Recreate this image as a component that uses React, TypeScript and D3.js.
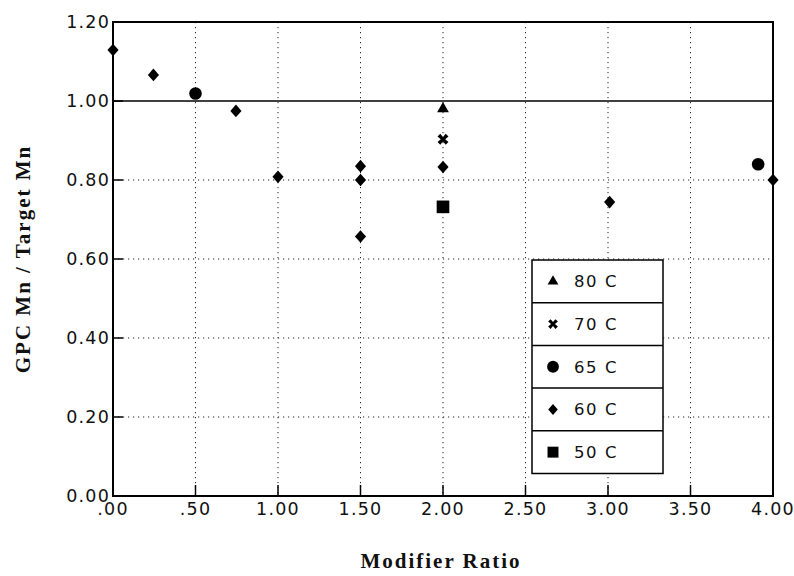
import React from "react";
import * as d3 from "d3";

// series
const tempLabels = ["80 C", "70 C", "65 C", "60 C", "50 C"];
const ratio80 = [2.0];
const mn80 = [0.98];
const ratio70 = [2.0];
const mn70 = [0.903];
const ratio65 = [0.5, 3.91];
const mn65 = [1.019, 0.84];
const ratio60 = [0.0, 0.245, 0.745, 1.0, 1.5, 1.5, 1.5, 2.0, 3.01, 4.0];
const mn60 = [1.129, 1.066, 0.975, 0.808, 0.835, 0.8, 0.657, 0.833, 0.744, 0.8];
const ratio50 = [2.0];
const mn50 = [0.732];

const xTicks = [0, 0.5, 1, 1.5, 2, 2.5, 3, 3.5, 4];
const yTicks = [0, 0.2, 0.4, 0.6, 0.8, 1.0, 1.2];

const W = 794, H = 576;
const M = { left: 113, right: 773, top: 22, bottom: 496 };

const x = d3.scaleLinear().domain([0, 4]).range([M.left, M.right]);
const y = d3.scaleLinear().domain([0, 1.2]).range([M.bottom, M.top]);

// wider diamond than d3.symbolDiamond
const diamond = {
  draw(ctx: any, size: number) {
    const r = Math.sqrt(size / 2);
    const w = r * 0.88;
    ctx.moveTo(0, -r);
    ctx.lineTo(w, 0);
    ctx.lineTo(0, r);
    ctx.lineTo(-w, 0);
    ctx.closePath();
  },
};
// bold X mark
const cross = {
  draw(ctx: any, size: number) {
    const r = Math.sqrt(size) / 2;
    const t = r * 0.5;
    ctx.moveTo(-r, -r + t);
    ctx.lineTo(-r + t, -r);
    ctx.lineTo(0, -t * 0.8);
    ctx.lineTo(r - t, -r);
    ctx.lineTo(r, -r + t);
    ctx.lineTo(t * 0.8, 0);
    ctx.lineTo(r, r - t);
    ctx.lineTo(r - t, r);
    ctx.lineTo(0, t * 0.8);
    ctx.lineTo(-r + t, r);
    ctx.lineTo(-r, r - t);
    ctx.lineTo(-t * 0.8, 0);
    ctx.closePath();
  },
};

const series = [
  { label: tempLabels[0], xs: ratio80, ys: mn80, type: d3.symbolTriangle, size: 60, legendSize: 50 },
  { label: tempLabels[1], xs: ratio70, ys: mn70, type: cross, size: 120, legendSize: 95 },
  { label: tempLabels[2], xs: ratio65, ys: mn65, type: d3.symbolCircle, size: 125, legendSize: 110 },
  { label: tempLabels[3], xs: ratio60, ys: mn60, type: diamond, size: 80, legendSize: 60 },
  { label: tempLabels[4], xs: ratio50, ys: mn50, type: d3.symbolSquare, size: 160, legendSize: 120 },
];

const fmtX = (v: number) => (v < 1 ? d3.format(".2f")(v).replace(/^0/, "") : d3.format(".2f")(v));
const fmtY = d3.format(".2f");

const tickFont = "DejaVu Sans, Liberation Sans, sans-serif";

export default function App() {
  const legend = { x0: 532, x1: 663, y0: 260, rowH: 42.7 };
  return (
    <svg width={W} height={H} style={{ position: "absolute", left: 0, top: 0, background: "#fff" }}>
      {/* dotted grid */}
      <g stroke="#222" strokeWidth={1} strokeDasharray="1.2,3.8">
        {xTicks.filter(t => t > 0 && t < 4).map(t => (
          <line key={"gx" + t} x1={x(t)} x2={x(t)} y1={M.top} y2={M.bottom} />
        ))}
        {yTicks.filter(t => t > 0 && t < 1).map(t => (
          <line key={"gy" + t} x1={M.left} x2={M.right} y1={y(t)} y2={y(t)} />
        ))}
      </g>
      {/* reference line at 1.00 */}
      <line x1={M.left} x2={M.right} y1={y(1)} y2={y(1)} stroke="#000" strokeWidth={1.5} />

      {/* tick marks, inward */}
      <g stroke="#000" strokeWidth={1.5}>
        {xTicks.map(t => (
          <line key={"tx" + t} x1={x(t)} x2={x(t)} y1={M.bottom} y2={M.bottom - 11} />
        ))}
        {yTicks.map(t => (
          <line key={"ty" + t} x1={M.left} x2={M.left + 10} y1={y(t)} y2={y(t)} />
        ))}
      </g>

      {/* frame */}
      <rect x={M.left} y={M.top} width={M.right - M.left} height={M.bottom - M.top}
        fill="none" stroke="#000" strokeWidth={2} />

      {/* tick labels */}
      <g fontFamily={tickFont} fontSize={17.5} fill="#111" letterSpacing={1.2}>
        {xTicks.map(t => (
          <text key={"lx" + t} x={x(t)} y={M.bottom + 19} textAnchor="middle">{fmtX(t)}</text>
        ))}
        {yTicks.map(t => (
          <text key={"ly" + t} x={M.left - 3} y={y(t)} dy="0.36em" textAnchor="end">{fmtY(t)}</text>
        ))}
      </g>

      {/* axis titles */}
      <text x={441} y={568} textAnchor="middle" fontFamily="Liberation Serif, DejaVu Serif, serif"
        fontWeight="bold" fontSize={21} letterSpacing={2} fill="#111">Modifier Ratio</text>
      <text transform={`translate(30,${(M.top + M.bottom) / 2}) rotate(-90)`} textAnchor="middle"
        fontFamily="Liberation Serif, DejaVu Serif, serif" fontWeight="bold" fontSize={21}
        letterSpacing={2} fill="#111">GPC Mn / Target Mn</text>

      {/* legend */}
      <g>
        <rect x={legend.x0} y={legend.y0} width={legend.x1 - legend.x0} height={legend.rowH * series.length}
          fill="#fff" stroke="#000" strokeWidth={1.5} />
        {series.map((s, i) => {
          const cy = legend.y0 + legend.rowH * (i + 0.5);
          return (
            <g key={"lg" + i}>
              {i > 0 && (
                <line x1={legend.x0} x2={legend.x1} y1={legend.y0 + legend.rowH * i} y2={legend.y0 + legend.rowH * i}
                  stroke="#000" strokeWidth={1.5} />
              )}
              <path transform={`translate(${legend.x0 + 21},${cy})`}
                d={d3.symbol().type(s.type as any).size(s.legendSize)() as string} fill="#000" />
              <text x={legend.x0 + 42} y={cy} dy="0.36em" fontFamily={tickFont} fontSize={16.5}
                letterSpacing={1.6} fill="#111">{s.label}</text>
            </g>
          );
        })}
      </g>

      {/* points */}
      <g fill="#000">
        {series.map((s, i) =>
          s.xs.map((v, j) => (
            <path key={`p${i}-${j}`} transform={`translate(${x(v)},${y(s.ys[j])})`}
              d={d3.symbol().type(s.type as any).size(s.size)() as string} />
          ))
        )}
      </g>
    </svg>
  );
}
